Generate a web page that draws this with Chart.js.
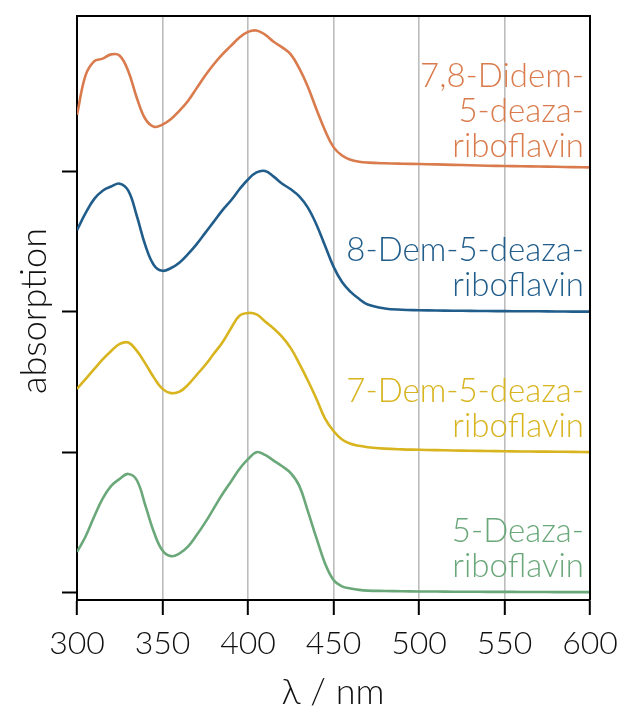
<!DOCTYPE html>
<html>
<head>
<meta charset="utf-8">
<script src="https://cdn.jsdelivr.net/npm/chart.js@4.4.1/dist/chart.umd.min.js"></script>
<style>
  body { margin: 0; background: #fff; }
  canvas { display: block; }
</style>
</head>
<body>
<canvas id="spectra" width="617" height="711"></canvas>
<script>
// wavelength grid shared by all spectra (nm)
const WAVELENGTHS = [300, 305, 310, 315, 320, 325, 330, 335, 340, 345, 350, 355, 360, 365, 370, 375, 380, 385, 390, 395,
    400, 405, 410, 415, 420, 425, 430, 435, 440, 445, 450, 455, 460, 465, 470,
    480, 490, 500, 510, 520, 530, 540, 550, 560, 570, 580, 590, 600];

// normalised absorption
const DIDEM = [0.40, 0.68, 0.78, 0.80, 0.83, 0.82, 0.71, 0.52, 0.37, 0.315, 0.33, 0.37, 0.43, 0.50, 0.59, 0.68, 0.76, 0.83, 0.89, 0.95,
    0.99, 1.00, 0.97, 0.92, 0.88, 0.83, 0.73, 0.60, 0.44, 0.29, 0.17, 0.11, 0.08, 0.066, 0.06,
    0.055, 0.052, 0.05, 0.047, 0.044, 0.041, 0.038, 0.036, 0.034, 0.032, 0.03, 0.028, 0.026];
const DEM8 = [0.58, 0.70, 0.80, 0.86, 0.89, 0.91, 0.86, 0.68, 0.47, 0.33, 0.29, 0.31, 0.35, 0.41, 0.48, 0.56, 0.64, 0.72, 0.79, 0.87,
    0.94, 0.99, 1.00, 0.96, 0.91, 0.87, 0.82, 0.74, 0.62, 0.47, 0.32, 0.21, 0.14, 0.09, 0.05,
    0.022, 0.013, 0.01, 0.008, 0.006, 0.005, 0.004, 0.003, 0.002, 0.002, 0.001, 0.0, 0.0];
const DEM7 = [0.45, 0.52, 0.59, 0.66, 0.72, 0.77, 0.78, 0.72, 0.63, 0.53, 0.45, 0.42, 0.43, 0.48, 0.55, 0.62, 0.70, 0.78, 0.88, 0.97,
    0.99, 0.98, 0.93, 0.88, 0.82, 0.74, 0.63, 0.51, 0.38, 0.24, 0.15, 0.09, 0.06, 0.045, 0.035,
    0.025, 0.02, 0.017, 0.014, 0.012, 0.01, 0.008, 0.006, 0.005, 0.004, 0.003, 0.002, 0.0];
const DEAZA = [0.29, 0.40, 0.54, 0.67, 0.76, 0.81, 0.845, 0.80, 0.62, 0.43, 0.30, 0.26, 0.28, 0.33, 0.41, 0.50, 0.60, 0.70, 0.79, 0.88,
    0.95, 1.00, 0.98, 0.94, 0.90, 0.85, 0.76, 0.58, 0.39, 0.21, 0.09, 0.045, 0.03, 0.02, 0.015,
    0.012, 0.01, 0.009, 0.008, 0.007, 0.007, 0.006, 0.006, 0.005, 0.005, 0.004, 0.004, 0.004];

const SERIES = [DIDEM, DEM8, DEM7, DEAZA];
const OFFSETS = [3, 2, 1, 0];
const COLORS = ['#d97b4c', '#215d8b', '#d8b41f', '#6aa87a'];
const LABELS = [
    ['7,8-Didem-', '5-deaza-', 'riboflavin'],
    ['8-Dem-5-deaza-', 'riboflavin'],
    ['7-Dem-5-deaza-', 'riboflavin'],
    ['5-Deaza-', 'riboflavin']
];
// baseline (pixel) of the first line of each label
const LABEL_TOPS = [87, 261, 402, 542];
const X_TICKS = [300, 350, 400, 450, 500, 550, 600];
const Y_TICKS = [0, 1, 2, 3];

const FONT = 'Lato, "Open Sans", sans-serif';

const frameAndText = {
    id: 'frameAndText',
    afterDraw(chart) {
        const { ctx, chartArea: a } = chart;
        ctx.save();
        // top and right frame
        ctx.strokeStyle = '#000';
        ctx.lineWidth = 2;
        ctx.beginPath();
        ctx.moveTo(a.left, a.top);
        ctx.lineTo(a.right, a.top);
        ctx.lineTo(a.right, a.bottom);
        ctx.stroke();

        // compound labels
        ctx.font = '300 33px ' + FONT;
        ctx.textAlign = 'right';
        ctx.textBaseline = 'alphabetic';
        LABELS.forEach((lines, k) => {
            ctx.fillStyle = COLORS[k];
            lines.forEach((line, j) => {
                ctx.fillText(line, 584, LABEL_TOPS[k] + j * 35);
            });
        });

        // axis titles
        ctx.fillStyle = '#111';
        ctx.font = '300 36px ' + FONT;
        ctx.textAlign = 'center';
        ctx.fillText('λ / nm', 333, 704);
        ctx.translate(46, 311);
        ctx.rotate(-Math.PI / 2);
        ctx.fillText('absorption', 0, 0);
        ctx.restore();
    }
};

new Chart(document.getElementById('spectra'), {
    type: 'line',
    data: {
        datasets: SERIES.map((vals, k) => ({
            data: WAVELENGTHS.map((w, i) => ({ x: w, y: vals[i] + OFFSETS[k] })),
            borderColor: COLORS[k],
            borderWidth: 2.6,
            pointRadius: 0,
            tension: 0.4,
            fill: false
        }))
    },
    options: {
        responsive: false,
        animation: false,
        layout: { padding: { top: 16, right: 27, left: 0, bottom: 0 } },
        plugins: { legend: { display: false }, tooltip: { enabled: false } },
        scales: {
            x: {
                type: 'linear',
                min: 300,
                max: 600,
                afterBuildTicks: (scale) => { scale.ticks = X_TICKS.map(v => ({ value: v })); },
                afterFit: (scale) => {
                    scale.height = 111;
                    scale.paddingLeft = 0;
                    scale.paddingRight = 0;
                },
                border: { color: '#000', width: 2 },
                grid: {
                    color: (c) => (c.tick && (c.tick.value === 300 || c.tick.value === 600)) ? 'rgba(0,0,0,0)' : '#bdbdbd',
                    lineWidth: 1.6,
                    tickColor: '#000',
                    tickLength: 15,
                    tickWidth: 2
                },
                ticks: {
                    color: '#111',
                    padding: 9,
                    maxRotation: 0,
                    font: { family: FONT, size: 32, weight: '300' }
                }
            },
            y: {
                type: 'linear',
                min: -0.052,
                max: 4.103,
                afterBuildTicks: (scale) => { scale.ticks = Y_TICKS.map(v => ({ value: v })); },
                afterFit: (scale) => {
                    scale.width = 77;
                    scale.paddingTop = 0;
                    scale.paddingBottom = 0;
                },
                border: { color: '#000', width: 2 },
                grid: {
                    drawOnChartArea: false,
                    drawTicks: true,
                    tickColor: '#000',
                    tickLength: 15,
                    tickWidth: 2
                },
                ticks: { display: false }
            }
        }
    },
    plugins: [frameAndText]
});
</script>
</body>
</html>
